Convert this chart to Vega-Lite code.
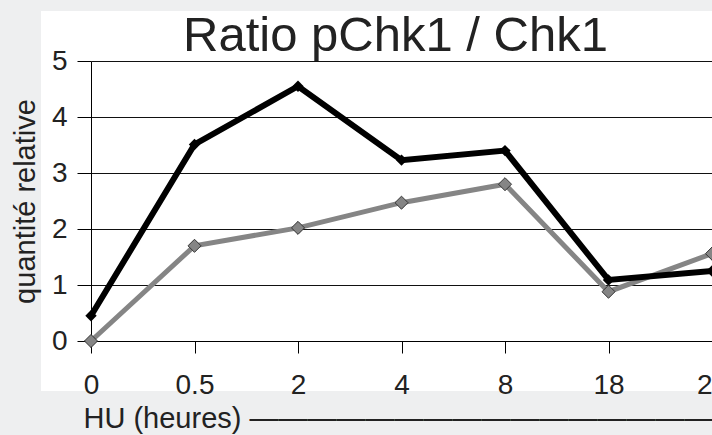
{
  "$schema": "https://vega.github.io/schema/vega-lite/v6.json",
  "width": 621,
  "height": 280,
  "autosize": {"type": "none"},
  "padding": {"left": 91, "top": 61, "right": 0, "bottom": 94},
  "background": "#eeeff0",
  "datasets": {
    "black": [
      {"h": "0", "v": 0.45},
      {"h": "0.5", "v": 3.51},
      {"h": "2", "v": 4.55},
      {"h": "4", "v": 3.23},
      {"h": "8", "v": 3.4},
      {"h": "18", "v": 1.09},
      {"h": "24", "v": 1.25}
    ],
    "gray": [
      {"h": "0", "v": 0.0},
      {"h": "0.5", "v": 1.7},
      {"h": "2", "v": 2.02},
      {"h": "4", "v": 2.47},
      {"h": "8", "v": 2.8},
      {"h": "18", "v": 0.88},
      {"h": "24", "v": 1.56}
    ]
  },
  "title": {
    "text": "Ratio pChk1 / Chk1",
    "font": "Liberation Sans",
    "fontSize": 49,
    "fontWeight": "normal",
    "color": "#222222",
    "frame": "group",
    "dx": -6,
    "offset": -53,
    "baseline": "alphabetic"
  },
  "config": {
    "view": {"fill": "white", "stroke": "white", "strokeWidth": 100},
    "axis": {
      "labelFont": "Liberation Sans",
      "titleFont": "Liberation Sans",
      "labelColor": "#222222",
      "titleColor": "#222222",
      "domainColor": "#000000",
      "tickColor": "#000000",
      "domainWidth": 1,
      "tickWidth": 1,
      "titleFontWeight": "normal"
    }
  },
  "encoding": {
    "x": {
      "field": "h",
      "type": "ordinal",
      "scale": {"type": "point", "padding": 0, "domain": ["0", "0.5", "2", "4", "8", "18", "24"]},
      "axis": {
        "labelAngle": 0,
        "labelFontSize": 28,
        "labelPadding": 18,
        "tickSize": 12,
        "grid": false,
        "title": "HU (heures)  ——————————————————",
        "titleFontSize": 29,
        "titleAnchor": "start",
        "titleAlign": "left",
        "titleBaseline": "alphabetic",
        "titleX": -8,
        "titleY": 86,
        "titleLimit": 3000
      }
    },
    "y": {
      "field": "v",
      "type": "quantitative",
      "scale": {"domain": [0, 5], "nice": false, "zero": true},
      "axis": {
        "values": [0, 1, 2, 3, 4, 5],
        "labelFontSize": 28,
        "labelPadding": 10,
        "tickSize": 14,
        "grid": true,
        "gridColor": "#111111",
        "gridWidth": 1,
        "gridOpacity": 1,
        "title": "quantité relative",
        "titleFontSize": 29,
        "titlePadding": 11
      }
    }
  },
  "layer": [
    {
      "data": {"name": "gray"},
      "mark": {"type": "line", "color": "#858585", "strokeWidth": 5, "clip": false}
    },
    {
      "data": {"name": "black"},
      "mark": {"type": "line", "color": "#000000", "strokeWidth": 6, "clip": false}
    },
    {
      "data": {"name": "black"},
      "mark": {"type": "point", "shape": "diamond", "filled": true, "color": "#000000", "size": 130, "opacity": 1, "clip": false}
    },
    {
      "data": {"name": "gray"},
      "mark": {"type": "point", "shape": "diamond", "filled": true, "fill": "#858585", "stroke": "#333333", "strokeWidth": 1, "size": 170, "opacity": 1, "clip": false}
    }
  ]
}
